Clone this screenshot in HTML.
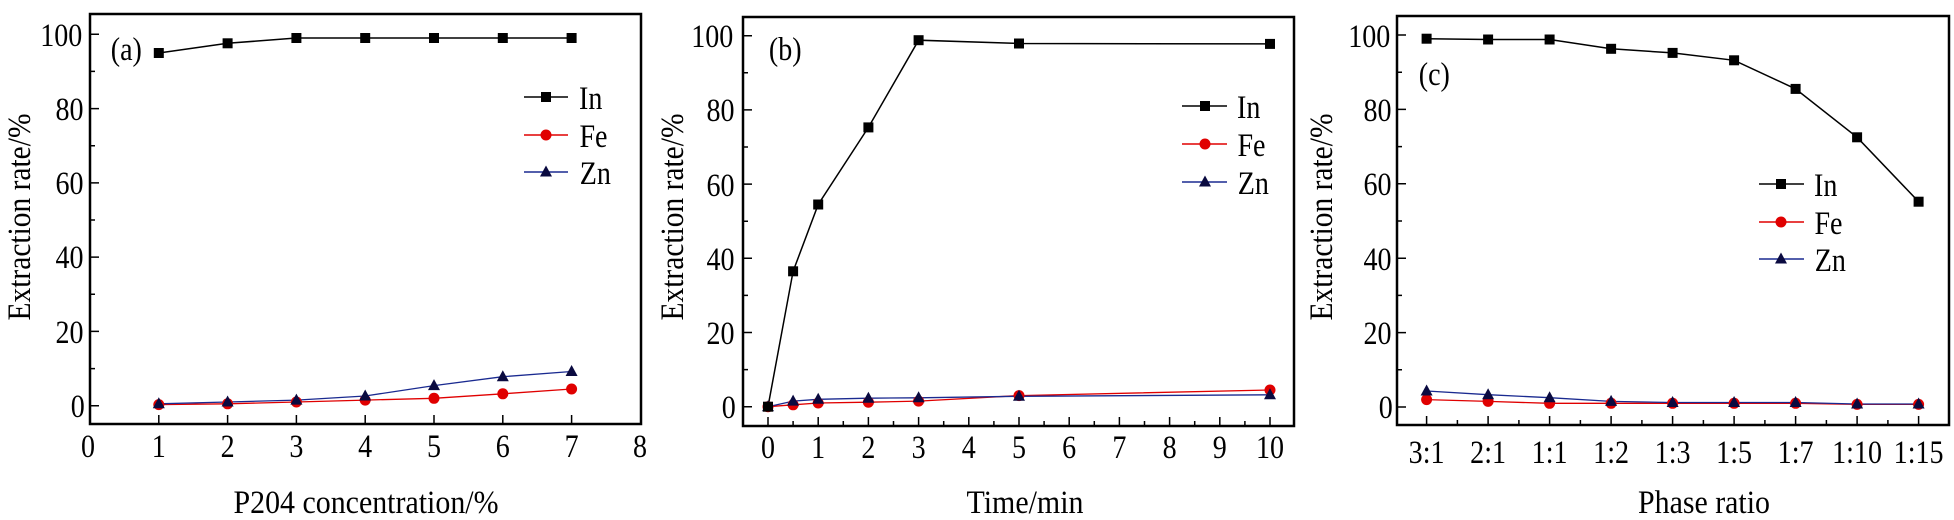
<!DOCTYPE html>
<html><head><meta charset="utf-8"><style>
html,body{margin:0;padding:0;background:#fff;}
svg{display:block;font-family:"Liberation Serif","Times New Roman",serif;}
.c text{transform-box:fill-box;transform-origin:center;transform:scaleX(0.85);}
</style></head><body>
<svg width="1954" height="520" viewBox="0 0 1954 520" xmlns="http://www.w3.org/2000/svg" font-family="Liberation Serif, serif">
<defs>
<rect id="sq" x="-5" y="-5" width="10" height="10" fill="#000"/>
<circle id="ci" r="5.5" fill="#e00000"/>
<path id="tr" d="M0,-6.5 L6,4.5 L-6,4.5 Z" fill="#0a0a40"/>
</defs>
<g font-size="33" fill="#000">
<!-- Panel A -->
<rect x="90" y="14" width="551" height="410" fill="none" stroke="#000" stroke-width="2.5"/>
<g stroke="#000" stroke-width="1.5">
<path d="M90,405.7h9M90,368.6h5M90,331.4h9M90,294.3h5M90,257.1h9M90,220h5M90,182.9h9M90,145.7h5M90,108.6h9M90,71.4h5M90,34.3h9"/>
<path d="M158.8,424v-9M227.6,424v-9M296.4,424v-9M365.2,424v-9M434,424v-9M502.8,424v-9M571.6,424v-9"/>
</g>
<g class="c">
<g text-anchor="end">
<text x="86" y="417">0</text><text x="86" y="343">20</text><text x="86" y="268">40</text><text x="86" y="194">60</text><text x="86" y="120">80</text><text x="86" y="46">100</text>
</g>
<g text-anchor="middle">
<text x="88" y="457">0</text><text x="158.8" y="457">1</text><text x="227.6" y="457">2</text><text x="296.4" y="457">3</text><text x="365.2" y="457">4</text><text x="434" y="457">5</text><text x="502.8" y="457">6</text><text x="571.6" y="457">7</text><text x="640" y="457">8</text>
</g>
<text x="108" y="60">(a)</text>
<text x="577" y="109">In</text><text x="577" y="147">Fe</text><text x="577" y="184">Zn</text>
</g>
<text x="366" y="513" text-anchor="middle" textLength="265" lengthAdjust="spacingAndGlyphs">P204 concentration/%</text>
<text transform="translate(30,217) rotate(-90)" text-anchor="middle" textLength="207" lengthAdjust="spacingAndGlyphs">Extraction rate/%</text>
<polyline fill="none" stroke="#000" stroke-width="1.5" points="158.8,53 227.6,43.3 296.4,38 365.2,38 434,38 502.8,38 571.6,38"/>
<polyline fill="none" stroke="#e00000" stroke-width="1.3" points="158.8,404.6 227.6,403.8 296.4,402 365.2,400.1 434,398.3 502.8,393.8 571.6,389"/>
<polyline fill="none" stroke="#1a2a90" stroke-width="1.3" points="158.8,403.8 227.6,402 296.4,400.1 365.2,396 434,385.6 502.8,376.7 571.6,371.5"/>
<use href="#ci" x="158.8" y="404.6"/><use href="#ci" x="227.6" y="403.8"/><use href="#ci" x="296.4" y="402"/><use href="#ci" x="365.2" y="400.1"/><use href="#ci" x="434" y="398.3"/><use href="#ci" x="502.8" y="393.8"/><use href="#ci" x="571.6" y="389"/>
<use href="#tr" x="158.8" y="403.8"/><use href="#tr" x="227.6" y="402"/><use href="#tr" x="296.4" y="400.1"/><use href="#tr" x="365.2" y="396"/><use href="#tr" x="434" y="385.6"/><use href="#tr" x="502.8" y="376.7"/><use href="#tr" x="571.6" y="371.5"/>
<use href="#sq" x="158.8" y="53"/><use href="#sq" x="227.6" y="43.3"/><use href="#sq" x="296.4" y="38"/><use href="#sq" x="365.2" y="38"/><use href="#sq" x="434" y="38"/><use href="#sq" x="502.8" y="38"/><use href="#sq" x="571.6" y="38"/>
<line x1="524" y1="97" x2="568" y2="97" stroke="#000" stroke-width="1.5"/><use href="#sq" x="546" y="97"/>
<line x1="524" y1="135" x2="568" y2="135" stroke="#e00000" stroke-width="1.5"/><use href="#ci" x="546" y="135"/>
<line x1="524" y1="172" x2="568" y2="172" stroke="#1a2a90" stroke-width="1.5"/><use href="#tr" x="546" y="172"/>

<!-- Panel B -->
<rect x="743" y="17" width="551" height="409" fill="none" stroke="#000" stroke-width="2.5"/>
<g stroke="#000" stroke-width="1.5">
<path d="M743,406.7h9M743,369.6h5M743,332.5h9M743,295.4h5M743,258.3h9M743,221.2h5M743,184.1h9M743,147h5M743,109.9h9M743,72.8h5M743,35.7h9"/>
<path d="M768,426v-9M818.2,426v-9M868.4,426v-9M918.6,426v-9M968.8,426v-9M1019,426v-9M1069.2,426v-9M1119.4,426v-9M1169.6,426v-9M1219.8,426v-9M1270,426v-9"/>
<path d="M793.1,426v-5M843.3,426v-5M893.5,426v-5M943.7,426v-5M993.9,426v-5M1044.1,426v-5M1094.3,426v-5M1144.5,426v-5M1194.7,426v-5M1244.9,426v-5"/>
</g>
<g class="c">
<g text-anchor="end">
<text x="737" y="418">0</text><text x="737" y="344">20</text><text x="737" y="270">40</text><text x="737" y="196">60</text><text x="737" y="121">80</text><text x="737" y="47">100</text>
</g>
<g text-anchor="middle">
<text x="768" y="458">0</text><text x="818.2" y="458">1</text><text x="868.4" y="458">2</text><text x="918.6" y="458">3</text><text x="968.8" y="458">4</text><text x="1019" y="458">5</text><text x="1069.2" y="458">6</text><text x="1119.4" y="458">7</text><text x="1169.6" y="458">8</text><text x="1219.8" y="458">9</text><text x="1270" y="458">10</text>
</g>
<text x="766" y="60">(b)</text>
<text x="1235" y="118">In</text><text x="1235" y="156">Fe</text><text x="1235" y="194">Zn</text>
</g>
<text x="1025" y="513" text-anchor="middle" textLength="117" lengthAdjust="spacingAndGlyphs">Time/min</text>
<text transform="translate(683,217) rotate(-90)" text-anchor="middle" textLength="207" lengthAdjust="spacingAndGlyphs">Extraction rate/%</text>
<polyline fill="none" stroke="#000" stroke-width="1.5" points="768,406.7 793.1,271.3 818.2,204.5 868.4,127.4 918.6,40.2 1019,43.5 1270,43.9"/>
<polyline fill="none" stroke="#e00000" stroke-width="1.3" points="768,406.7 793.1,404.8 818.2,403 868.4,402.2 918.6,401.1 1019,395.6 1270,390"/>
<polyline fill="none" stroke="#1a2a90" stroke-width="1.3" points="768,406.7 793.1,401.1 818.2,399.3 868.4,398.2 918.6,397.8 1019,396.3 1270,394.8"/>
<use href="#ci" x="768" y="406.7"/><use href="#ci" x="793.1" y="404.8"/><use href="#ci" x="818.2" y="403"/><use href="#ci" x="868.4" y="402.2"/><use href="#ci" x="918.6" y="401.1"/><use href="#ci" x="1019" y="395.6"/><use href="#ci" x="1270" y="390"/>
<use href="#tr" x="768" y="406.7"/><use href="#tr" x="793.1" y="401.1"/><use href="#tr" x="818.2" y="399.3"/><use href="#tr" x="868.4" y="398.2"/><use href="#tr" x="918.6" y="397.8"/><use href="#tr" x="1019" y="396.3"/><use href="#tr" x="1270" y="394.8"/>
<use href="#sq" x="768" y="406.7"/><use href="#sq" x="793.1" y="271.3"/><use href="#sq" x="818.2" y="204.5"/><use href="#sq" x="868.4" y="127.4"/><use href="#sq" x="918.6" y="40.2"/><use href="#sq" x="1019" y="43.5"/><use href="#sq" x="1270" y="43.9"/>
<line x1="1182" y1="106" x2="1227" y2="106" stroke="#000" stroke-width="1.5"/><use href="#sq" x="1205" y="106"/>
<line x1="1182" y1="144" x2="1227" y2="144" stroke="#e00000" stroke-width="1.5"/><use href="#ci" x="1205" y="144"/>
<line x1="1182" y1="182" x2="1227" y2="182" stroke="#1a2a90" stroke-width="1.5"/><use href="#tr" x="1205" y="182"/>

<!-- Panel C -->
<rect x="1397" y="16" width="552" height="409" fill="none" stroke="#000" stroke-width="2.5"/>
<g stroke="#000" stroke-width="1.5">
<path d="M1397,407h9M1397,369.8h5M1397,332.6h9M1397,295.4h5M1397,258.2h9M1397,221h5M1397,183.8h9M1397,146.6h5M1397,109.4h9M1397,72.2h5M1397,35h9"/>
<path d="M1426.6,425v-9M1488.1,425v-9M1549.6,425v-9M1611.1,425v-9M1672.6,425v-9M1734.1,425v-9M1795.6,425v-9M1857.1,425v-9M1918.6,425v-9"/>
<path d="M1457.4,425v-5M1518.9,425v-5M1580.4,425v-5M1641.9,425v-5M1703.4,425v-5M1764.9,425v-5M1826.4,425v-5M1887.9,425v-5"/>
</g>
<g class="c">
<g text-anchor="end">
<text x="1394" y="418">0</text><text x="1394" y="344">20</text><text x="1394" y="270">40</text><text x="1394" y="195">60</text><text x="1394" y="121">80</text><text x="1394" y="47">100</text>
</g>
<g text-anchor="middle">
<text x="1426.6" y="463">3:1</text><text x="1488.1" y="463">2:1</text><text x="1549.6" y="463">1:1</text><text x="1611.1" y="463">1:2</text><text x="1672.6" y="463">1:3</text><text x="1734.1" y="463">1:5</text><text x="1795.6" y="463">1:7</text><text x="1857.1" y="463">1:10</text><text x="1918.6" y="463">1:15</text>
</g>
<text x="1416" y="85">(c)</text>
<text x="1812" y="196">In</text><text x="1812" y="234">Fe</text><text x="1812" y="271">Zn</text>
</g>
<text x="1704" y="513" text-anchor="middle" textLength="132" lengthAdjust="spacingAndGlyphs">Phase ratio</text>
<text transform="translate(1332,217) rotate(-90)" text-anchor="middle" textLength="207" lengthAdjust="spacingAndGlyphs">Extraction rate/%</text>
<polyline fill="none" stroke="#000" stroke-width="1.5" points="1426.6,38.7 1488.1,39.5 1549.6,39.5 1611.1,48.8 1672.6,52.9 1734.1,60.3 1795.6,88.9 1857.1,137.3 1918.6,201.7"/>
<polyline fill="none" stroke="#e00000" stroke-width="1.3" points="1426.6,399.6 1488.1,401.4 1549.6,403.3 1611.1,403.3 1672.6,403.3 1734.1,403.3 1795.6,403.3 1857.1,404.4 1918.6,404.4"/>
<polyline fill="none" stroke="#1a2a90" stroke-width="1.3" points="1426.6,391 1488.1,394.7 1549.6,397.7 1611.1,401.4 1672.6,402.5 1734.1,402.5 1795.6,402.5 1857.1,404 1918.6,404"/>
<use href="#ci" x="1426.6" y="399.6"/><use href="#ci" x="1488.1" y="401.4"/><use href="#ci" x="1549.6" y="403.3"/><use href="#ci" x="1611.1" y="403.3"/><use href="#ci" x="1672.6" y="403.3"/><use href="#ci" x="1734.1" y="403.3"/><use href="#ci" x="1795.6" y="403.3"/><use href="#ci" x="1857.1" y="404.4"/><use href="#ci" x="1918.6" y="404.4"/>
<use href="#tr" x="1426.6" y="391"/><use href="#tr" x="1488.1" y="394.7"/><use href="#tr" x="1549.6" y="397.7"/><use href="#tr" x="1611.1" y="401.4"/><use href="#tr" x="1672.6" y="402.5"/><use href="#tr" x="1734.1" y="402.5"/><use href="#tr" x="1795.6" y="402.5"/><use href="#tr" x="1857.1" y="404"/><use href="#tr" x="1918.6" y="404"/>
<use href="#sq" x="1426.6" y="38.7"/><use href="#sq" x="1488.1" y="39.5"/><use href="#sq" x="1549.6" y="39.5"/><use href="#sq" x="1611.1" y="48.8"/><use href="#sq" x="1672.6" y="52.9"/><use href="#sq" x="1734.1" y="60.3"/><use href="#sq" x="1795.6" y="88.9"/><use href="#sq" x="1857.1" y="137.3"/><use href="#sq" x="1918.6" y="201.7"/>
<line x1="1759" y1="184" x2="1804" y2="184" stroke="#000" stroke-width="1.5"/><use href="#sq" x="1781" y="184"/>
<line x1="1759" y1="222" x2="1804" y2="222" stroke="#e00000" stroke-width="1.5"/><use href="#ci" x="1781" y="222"/>
<line x1="1759" y1="259" x2="1804" y2="259" stroke="#1a2a90" stroke-width="1.5"/><use href="#tr" x="1781" y="259"/>
</g>
</svg>
</body></html>
